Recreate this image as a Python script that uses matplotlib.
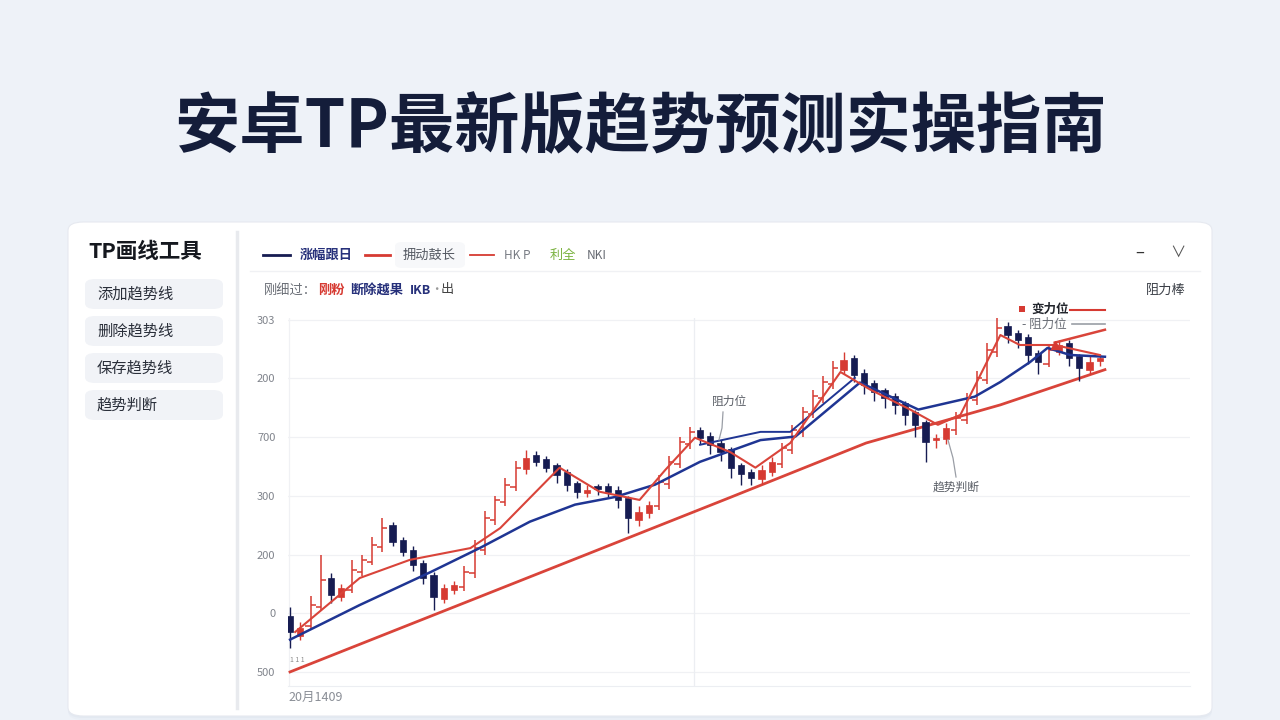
import matplotlib

matplotlib.use("Agg")
import matplotlib.pyplot as plt
from matplotlib.lines import Line2D
from matplotlib.patches import FancyBboxPatch, Rectangle

plt.rcParams["font.family"] = ["Noto Sans CJK SC", "DejaVu Sans"]

W, H = 1280, 720

# ---- data (price units, candle index on x) ----
opens = [95, 62, 78, 110, 160, 128, 140, 170, 188, 212, 250, 225, 208, 185, 165, 125, 140, 145, 168, 208,
         258, 290, 315, 345, 370, 362, 352, 340, 322, 304, 315, 316, 310, 296, 258, 270, 282, 320, 355, 388,
         412, 402, 390, 380, 352, 340, 328, 340, 355, 378, 408, 440, 466, 490, 515, 535, 510, 492, 480, 470,
         458, 442, 425, 395, 396, 412, 430, 463, 498, 545, 590, 577, 570, 544, 525, 545, 560, 538, 515, 530]
closes = [68, 75, 114, 157, 131, 143, 174, 191, 216, 245, 222, 205, 182, 160, 128, 143, 148, 170, 211, 262,
          293, 319, 348, 365, 358, 348, 336, 319, 307, 310, 312, 307, 293, 262, 273, 285, 324, 358, 392, 409,
          399, 387, 375, 348, 337, 331, 344, 358, 382, 412, 443, 470, 494, 518, 532, 506, 489, 477, 467, 455,
          438, 421, 392, 399, 416, 433, 467, 501, 549, 586, 574, 566, 540, 528, 549, 557, 535, 518, 528, 535]
highs = [110, 85, 130, 200, 168, 150, 190, 200, 230, 262, 255, 230, 214, 190, 170, 150, 155, 180, 225, 275,
         300, 330, 360, 378, 376, 368, 356, 345, 326, 318, 320, 322, 316, 300, 282, 292, 335, 368, 400, 418,
         418, 408, 395, 384, 356, 345, 352, 366, 390, 420, 452, 480, 505, 530, 545, 540, 516, 498, 484, 475,
         462, 446, 430, 405, 424, 442, 476, 512, 560, 608, 596, 582, 575, 548, 556, 566, 566, 542, 540, 542]
lows = [40, 55, 72, 104, 118, 120, 134, 164, 182, 205, 215, 198, 172, 150, 105, 118, 132, 138, 160, 200,
        250, 282, 308, 338, 350, 340, 322, 308, 296, 298, 302, 298, 280, 236, 248, 262, 276, 312, 348, 380,
        388, 372, 360, 330, 318, 318, 320, 334, 348, 372, 400, 432, 458, 482, 508, 494, 474, 462, 450, 440,
        420, 400, 358, 382, 388, 404, 422, 455, 490, 536, 560, 552, 525, 508, 520, 540, 522, 495, 508, 522]

support_x = [0, 26.3, 42.9, 56.2, 69.3, 79.5]
support_y = [0, 182, 297, 390, 455, 515]

blue_x = [0, 6.8, 13.7, 18.5, 23.4, 27.8, 31.7, 35.6, 40, 45.9, 49.3, 55.6, 57.6, 61.3, 66.8, 69.3, 72.2, 73.9, 76.1, 79.5]
blue_y = [55, 114, 170, 211, 256, 285, 298, 319, 358, 395, 401, 493, 477, 447, 469, 494, 528, 552, 540, 537]
blue2_x = [40, 45.9, 48.8, 55.1]
blue2_y = [387, 409, 409, 501]

red_x = [0.5, 6.8, 11.7, 17.6, 20.5, 26.3, 30.2, 34.1, 36.6, 39.5, 42.9, 45.4, 48.8, 53.7, 56.6, 60.5, 63.2,
         65.4, 69.3, 71.2, 74.6, 79.0]
red_y = [68, 160, 191, 211, 245, 348, 307, 293, 344, 399, 375, 348, 390, 511, 481, 447, 421, 438, 574, 557, 557, 540]

channel_x = [74.6, 79.5]
channel_y = [561, 583]

y_ticks = [0, 100, 200, 300, 400, 500, 600]
y_labels = ["500", "0", "200", "300", "700", "200", "303"]

sidebar_items = ["添加趋势线", "删除趋势线", "保存趋势线", "趋势判断"]

RED = "#d63a32"
NAVY = "#161c52"
BLUE = "#1f3593"


def fx(x):
    return x / W


def fy(y):
    return 1 - y / H


fig = plt.figure(figsize=(12.8, 7.2), dpi=100)
fig.patch.set_facecolor("#eef2f8")

# title
fig.text(fx(640), fy(128), "安卓TP最新版趋势预测实操指南", ha="center", va="center",
         fontsize=47, fontweight="heavy", color="#141d3a")

# card with soft shadow
for off, alpha in [(4, 0.04), (2, 0.05)]:
    fig.patches.append(FancyBboxPatch((fx(68), fy(716 + off)), fx(1144), (716 - 222) / H,
                                      boxstyle="round,pad=0,rounding_size=0.012",
                                      transform=fig.transFigure, facecolor="#8090b0", alpha=alpha,
                                      edgecolor="none", zorder=0))
fig.patches.append(FancyBboxPatch((fx(68), fy(716)), fx(1144), (716 - 222) / H,
                                  boxstyle="round,pad=0,rounding_size=0.012",
                                  transform=fig.transFigure, facecolor="white", edgecolor="#e6e9f0",
                                  linewidth=0.8, zorder=1))

# sidebar
fig.add_artist(Line2D([fx(237), fx(237)], [fy(232), fy(708)], color="#e8eaee", lw=2.5))
fig.text(fx(88), fy(252), "TP画线工具", ha="left", va="center", fontsize=15.5, fontweight="bold", color="#15181f")
for i, label in enumerate(sidebar_items):
    top = 279 + i * 37
    fig.patches.append(FancyBboxPatch((fx(85), fy(top + 30)), fx(138), 30 / H,
                                      boxstyle="round,pad=0,rounding_size=0.008",
                                      transform=fig.transFigure, facecolor="#f1f3f7", edgecolor="none",
                                      zorder=2))
    fig.text(fx(97), fy(top + 15), label, ha="left", va="center", fontsize=11, color="#2a2f3a", zorder=3)

# legend row
fig.add_artist(Line2D([fx(263), fx(290)], [fy(255), fy(255)], color=NAVY, lw=2))
fig.text(fx(300), fy(255), "涨幅跟日", va="center", fontsize=9.5, fontweight="bold", color="#26307a")
fig.patches.append(FancyBboxPatch((fx(395), fy(268)), fx(70), 26 / H,
                                  boxstyle="round,pad=0,rounding_size=0.006",
                                  transform=fig.transFigure, facecolor="#f7f8fa", edgecolor="none", zorder=2))
fig.add_artist(Line2D([fx(365), fx(390)], [fy(255), fy(255)], color=RED, lw=2))
fig.text(fx(403), fy(255), "拥动鼓长", va="center", fontsize=9.5, color="#555a63", zorder=3)
fig.add_artist(Line2D([fx(470), fx(494)], [fy(255), fy(255)], color=RED, lw=1.3))
fig.text(fx(504), fy(255), "HK P", va="center", fontsize=8.5, color="#777b83")
fig.text(fx(550), fy(255), "利全", va="center", fontsize=9.5, color="#7cb342")
fig.text(fx(587), fy(255), "NKI", va="center", fontsize=8.5, color="#666a72")

fig.text(fx(1140), fy(252), "–", ha="center", va="center", fontsize=12, color="#333")
fig.text(fx(1178), fy(252), "∨", ha="center", va="center", fontsize=11, color="#555")
fig.add_artist(Line2D([fx(250), fx(1200)], [fy(271), fy(271)], color="#f0f1f4", lw=1))

# second row
fig.text(fx(264), fy(290), "刚细过：", va="center", fontsize=9.5, color="#6a6e76")
fig.text(fx(318), fy(290), "刚粉", va="center", fontsize=9.5, fontweight="bold", color=RED)
fig.text(fx(350), fy(290), "断除越果", va="center", fontsize=9.5, fontweight="bold", color="#26307a")
fig.text(fx(410), fy(290), "IKB", va="center", fontsize=9, fontweight="bold", color="#26307a")
fig.text(fx(430), fy(290), "·", va="center", fontsize=9, color="#999")
fig.text(fx(441), fy(290), "出", va="center", fontsize=9.5, color="#444")
fig.text(fx(1186), fy(290), "阻力棒", ha="right", va="center", fontsize=9.5, color="#3a3e46")

# chart
ax = fig.add_axes([fx(288), fy(686), fx(1190 - 288), (686 - 318) / H])
ax.set_zorder(4)
ax.set_facecolor("white")
ax.set_xlim(-0.2, 87.8)
ax.set_ylim(-24, 603)
ax.set_yticks(y_ticks)
ax.set_yticklabels(y_labels, fontsize=8, color="#80848c")
ax.set_xticks([])
ax.tick_params(axis="y", length=0, pad=9)
for side in ["top", "right", "left"]:
    ax.spines[side].set_visible(False)
ax.spines["bottom"].set_color("#eceef2")
ax.grid(axis="y", color="#f0f1f4", lw=0.9)
ax.axvline(39.4, color="#eceef2", lw=0.9)
ax.axvline(-0.1, color="#f0f1f4", lw=0.9)

for i, (o, c, h, l) in enumerate(zip(opens, closes, highs, lows)):
    if c >= o and c - o > 20:
        # strong up bars: thin OHLC strokes that read as a red staircase
        ax.vlines(i, l, h, color=RED, lw=1.1, zorder=3)
        ax.hlines(o, i - 0.5, i, color=RED, lw=1.1, zorder=3)
        ax.hlines(c, i, i + 0.5, color=RED, lw=1.1, zorder=3)
        continue
    col = RED if c >= o else NAVY
    ax.vlines(i, l, h, color=col, lw=1.0, zorder=3)
    ax.bar(i, max(abs(c - o), 4), bottom=min(o, c), width=0.6,
           color=col, edgecolor=col, lw=0.5, zorder=4)

ax.plot(support_x, support_y, color="#d9443a", lw=2, zorder=2)
ax.plot(blue_x, blue_y, color=BLUE, lw=1.8, zorder=5)
ax.plot(blue2_x, blue2_y, color=BLUE, lw=1.4, zorder=5)
ax.plot(red_x, red_y, color="#d9443a", lw=1.5, zorder=5)
ax.plot(channel_x, channel_y, color="#d9443a", lw=1.8, zorder=5)
ax.plot([74.6], [557], marker="^", color=RED, ms=6, zorder=6)

# annotations
fig.text(fx(730), fy(401), "阻力位", ha="center", va="center", fontsize=8.5, color="#5a5e66", zorder=6)
fig.add_artist(Line2D([fx(723), fx(722), fx(719)], [fy(412), fy(428), fy(440)], color="#9a9ea6", lw=0.9,
                      zorder=6))
fig.text(fx(956), fy(487), "趋势判断", ha="center", va="center", fontsize=8.5, color="#5a5e66", zorder=6)
fig.add_artist(Line2D([fx(956), fx(953), fx(948)], [fy(477), fy(458), fy(440)], color="#9a9ea6", lw=0.9,
                      zorder=6))

fig.patches.append(Rectangle((fx(1019), fy(312)), fx(6), 6 / H, transform=fig.transFigure,
                             facecolor=RED, edgecolor="none", zorder=6))
fig.text(fx(1031), fy(309), "变力位", va="center", fontsize=9, fontweight="bold", color="#22252c", zorder=6)
fig.add_artist(Line2D([fx(1070), fx(1105)], [fy(310), fy(310)], color=RED, lw=1.5, zorder=6))
fig.text(fx(1022), fy(324), "- 阻力位", va="center", fontsize=9, color="#6a6e76", zorder=6)
fig.add_artist(Line2D([fx(1072), fx(1105)], [fy(324), fy(324)], color="#9a9ea6", lw=1.2, zorder=6))

fig.text(fx(290), fy(660), "1 1 1", va="center", fontsize=5, color="#888", zorder=6)
fig.text(fx(288), fy(697), "20月1409", va="center", fontsize=9, color="#8a8e96")

fig.savefig("out.png", dpi=100, facecolor=fig.get_facecolor())
